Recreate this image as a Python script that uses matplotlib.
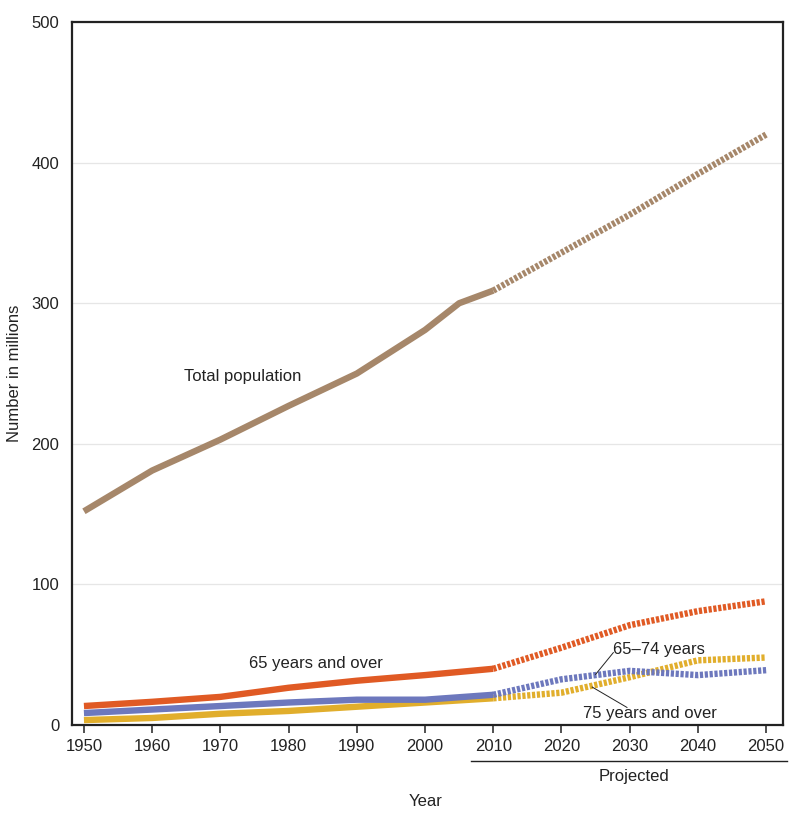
import matplotlib
matplotlib.use("Agg")
import matplotlib.pyplot as plt
from matplotlib.lines import Line2D

plt.rcParams['font.family'] = ['Liberation Sans', 'DejaVu Sans']
plt.rcParams['lines.scale_dashes'] = False

# Data (millions)
years_total = [1950, 1960, 1970, 1980, 1990, 2000, 2005, 2010]
total_hist = [152, 181, 203, 227, 250, 281, 300, 309]
years_proj = [2010, 2020, 2030, 2040, 2050]
total_proj = [309, 336, 363, 392, 420]

years_hist = [1950, 1960, 1970, 1980, 1990, 2000, 2010]
over65_hist = [13.5, 16.5, 20, 26.5, 31.5, 35.5, 40]
over65_proj = [40, 55, 71, 81, 88]
age6574_hist = [8.5, 11, 13.5, 16, 18, 18, 21.5]
age6574_proj = [21.5, 32.5, 38.5, 35.5, 39]
over75_hist = [3.5, 5, 8, 10, 13, 16, 19]
over75_proj = [19, 23, 34, 46, 48]

yticks = [0, 100, 200, 300, 400, 500]
xticks = [1950, 1960, 1970, 1980, 1990, 2000, 2010, 2020, 2030, 2040, 2050]

c_total = '#A6876A'
c_65 = '#E05A24'
c_6574 = '#6D78BD'
c_75 = '#E1AE2C'

fig = plt.figure(figsize=(8.0, 8.17), dpi=100)
ax = fig.add_axes([0.09, 0.1126, 0.889, 0.8604])

lw = 4.6
dash = (0, (2.3, 1.2))

def plot_series(xh, yh, xp, yp, c, z):
    ax.plot(xh, yh, color=c, lw=lw, solid_capstyle='butt', solid_joinstyle='round', zorder=z)
    ax.plot(xp, yp, color=c, lw=lw, linestyle=dash, dash_capstyle='butt', zorder=z)

plot_series(years_hist, over75_hist, years_proj, over75_proj, c_75, 3)
plot_series(years_hist, age6574_hist, years_proj, age6574_proj, c_6574, 4)
plot_series(years_hist, over65_hist, years_proj, over65_proj, c_65, 5)
plot_series(years_total, total_hist, years_proj, total_proj, c_total, 6)

ax.set_xlim(1948.25, 2052.5)
ax.set_ylim(0, 500)
ax.set_xticks(xticks)
ax.set_yticks(yticks)
ax.tick_params(axis='x', direction='out', length=6, width=1.2, color='#333333',
               labelsize=12, pad=4, labelcolor='#222222')
ax.tick_params(axis='y', length=0, labelsize=12, pad=9, labelcolor='#222222')
ax.grid(axis='y', color='#E6E6E6', lw=0.9, zorder=0)
ax.set_axisbelow(True)
for s in ax.spines.values():
    s.set_linewidth(1.6)
    s.set_color('#222222')

fig.text(15/800, 1 - 373/817, 'Number in millions', fontsize=12, color='#222222',
         rotation=90, ha='center', va='center')

# Labels
ax.text(1964.6, 248, 'Total population', fontsize=12, color='#222222', va='center', ha='left')
ax.text(1974.2, 44, '65 years and over', fontsize=12, color='#222222', va='center', ha='left')
ax.text(2027.5, 53.5, '65\u201374 years', fontsize=12, color='#222222', va='center', ha='left')
ax.text(2023.2, 8.5, '75 years and over', fontsize=12, color='#222222', va='center', ha='left')
ax.plot([2027.6, 2025.0], [51.5, 36.0], color='#222222', lw=0.7, zorder=7)
ax.plot([2024.5, 2029.6], [27.0, 12.5], color='#222222', lw=0.7, zorder=7)

# Projected bracket
fig.add_artist(Line2D([471/800, 787/800], [1 - 761/817, 1 - 761/817], color='#222222', lw=1.0))
fig.text(634/800, 1 - 777/817, 'Projected', fontsize=12, color='#222222', ha='center', va='center')
fig.text(426/800, 1 - 802/817, 'Year', fontsize=12, color='#222222', ha='center', va='center')

fig.savefig('out.png', dpi=100, facecolor='white')
